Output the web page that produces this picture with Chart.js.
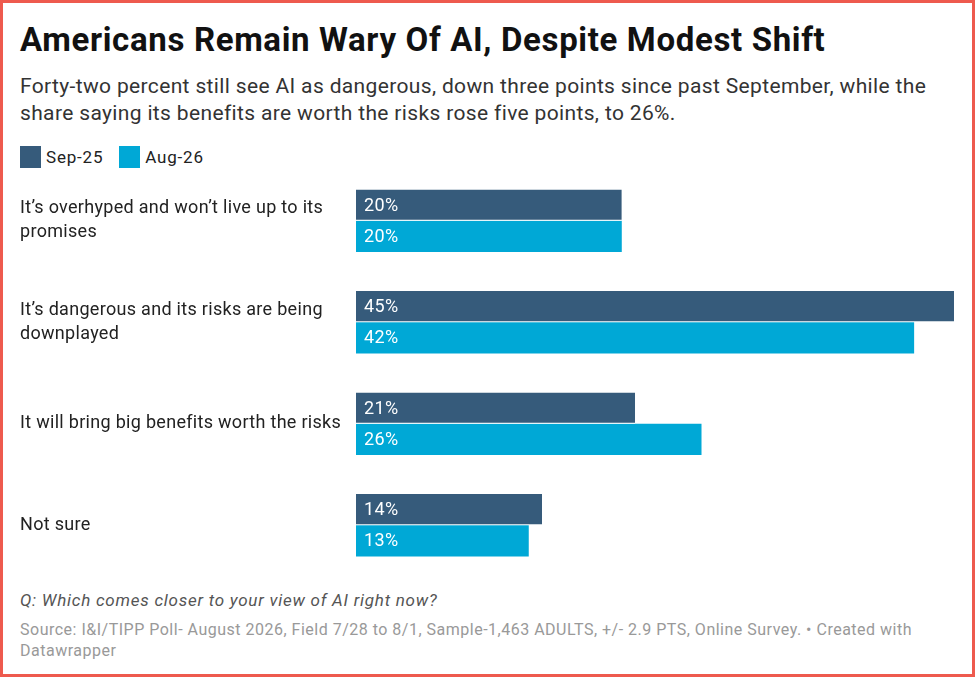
<!DOCTYPE html>
<html>
<head>
<meta charset="utf-8">
<script src="https://cdn.jsdelivr.net/npm/chart.js@4"></script>
<style>
  html, body { margin: 0; padding: 0; background: #fff; }
  #frame {
    position: relative; width: 975px; height: 677px; box-sizing: border-box;
    border: 3px solid #ee5a4e; font-family: Roboto, sans-serif; overflow: hidden;
  }
  h1 { position: absolute; left: 17px; top: 17px; margin: 0; font-size: 33px; font-weight: 700; color: #111; letter-spacing: 0.65px; white-space: nowrap; }
  .sub { position: absolute; left: 17px; top: 70px; width: 925px; margin: 0; font-size: 21px; line-height: 27px; color: #333; letter-spacing: 0.35px; }
  .legend { position: absolute; left: 17px; top: 143px; font-size: 17px; color: #222; display: flex; align-items: center; letter-spacing: 0.8px; }
  .legend span.sw { display: inline-block; width: 21px; height: 22px; margin-right: 5px; }
  .legend .item { display: flex; align-items: center; margin-right: 16px; }
  #chart { position: absolute; left: -3px; top: 167px; }
  .q { position: absolute; left: 17px; top: 587px; font-size: 17px; font-style: italic; color: #555; letter-spacing: 0.75px; }
  .src { position: absolute; left: 17px; top: 616px; width: 925px; font-size: 16px; line-height: 21px; color: #999; letter-spacing: 0.5px; }
</style>
</head>
<body>
<div id="frame">
  <h1>Americans Remain Wary Of AI, Despite Modest Shift</h1>
  <p class="sub">Forty-two percent still see AI as dangerous, down three points since past September, while the share saying its benefits are worth the risks rose five points, to 26%.</p>
  <div class="legend">
    <div class="item"><span class="sw" style="background:#365b7b"></span>Sep-25</div>
    <div class="item"><span class="sw" style="background:#00a8d6"></span>Aug-26</div>
  </div>
  <canvas id="chart" width="975" height="406"></canvas>
  <div class="q">Q: Which comes closer to your view of AI right now?</div>
  <div class="src">Source: I&amp;I/TIPP Poll- August 2026, Field 7/28 to 8/1, Sample-1,463 ADULTS, +/- 2.9 PTS, Online Survey. • Created with Datawrapper</div>
</div>
<script>
const categories = [
  ['It’s overhyped and won’t live up to its', 'promises'],
  ['It’s dangerous and its risks are being', 'downplayed'],
  'It will bring big benefits worth the risks',
  'Not sure',
];
const sep25 = [20, 45, 21, 14];
const aug26 = [20, 42, 26, 13];

// slightly wider text, like the original rendering
const spacing = {
  id: 'spacing',
  beforeUpdate(chart) { chart.ctx.letterSpacing = '0.3px'; },
  beforeDraw(chart) { chart.ctx.letterSpacing = '0.3px'; },
};

const valueLabels = {
  id: 'valueLabels',
  afterDatasetsDraw(chart) {
    const ctx = chart.ctx;
    ctx.save();
    ctx.font = '18px Roboto, sans-serif';
    ctx.letterSpacing = '0.4px';
    ctx.fillStyle = '#fff';
    ctx.textBaseline = 'middle';
    ctx.textAlign = 'left';
    chart.data.datasets.forEach((ds, i) => {
      chart.getDatasetMeta(i).data.forEach((bar, j) => {
        ctx.fillText(ds.data[j] + '%', bar.base + 8, bar.y + 1);
      });
    });
    ctx.restore();
  },
};

new Chart(document.getElementById('chart'), {
  type: 'bar',
  data: {
    labels: categories,
    datasets: [
      { label: 'Sep-25', data: sep25, backgroundColor: '#365b7b', borderColor: '#fff', borderWidth: { bottom: 1 }, borderSkipped: false },
      { label: 'Aug-26', data: aug26, backgroundColor: '#00a8d6', borderWidth: 0 },
    ],
  },
  options: {
    indexAxis: 'y',
    responsive: false,
    animation: false,
    categoryPercentage: 0.615,
    barPercentage: 1.0,
    layout: { padding: { left: 20, right: 21, top: 0, bottom: 0 } },
    plugins: { legend: { display: false }, tooltip: { enabled: false } },
    scales: {
      x: { display: false, min: 0, max: 45 },
      y: {
        afterFit: (s) => { s.width = 336; s.paddingTop = 0; s.paddingBottom = 0; },
        grid: { display: false },
        border: { display: false },
        ticks: {
          crossAlign: 'far',
          padding: 0,
          color: '#222',
          font: { family: 'Roboto, sans-serif', size: 18, lineHeight: 1.33 },
        },
      },
    },
  },
  plugins: [spacing, valueLabels],
});
</script>
</body>
</html>
